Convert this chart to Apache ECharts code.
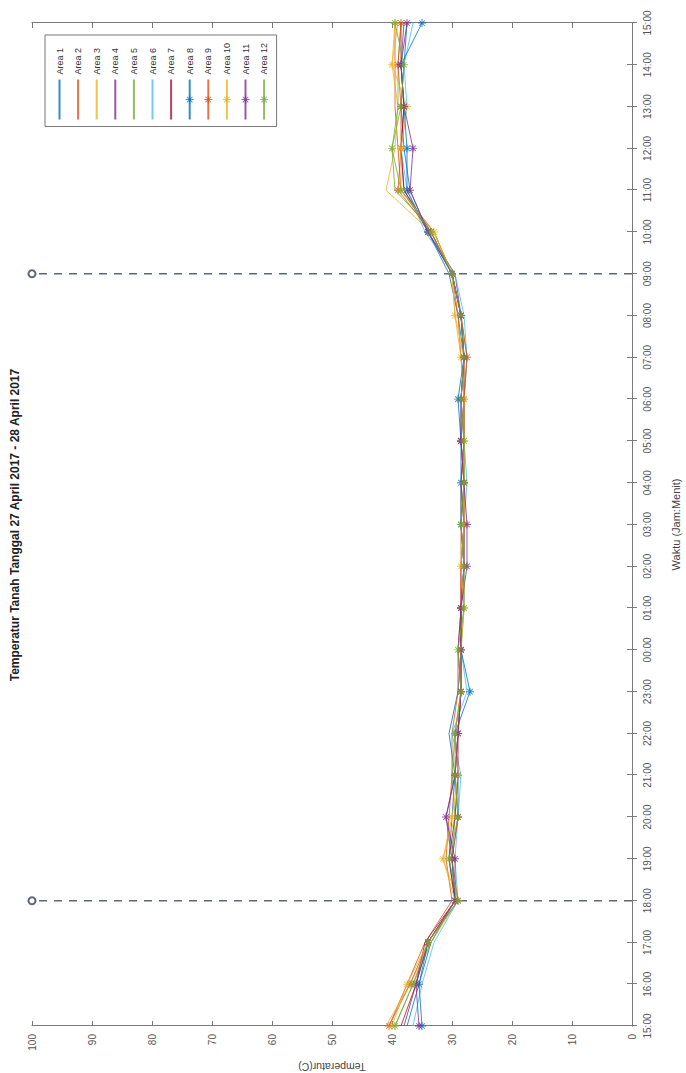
<!DOCTYPE html>
<html><head><meta charset="utf-8">
<script src="https://cdn.jsdelivr.net/npm/echarts@6/dist/echarts.min.js"></script>
<style>
html,body{margin:0;padding:0;width:686px;height:1073px;overflow:hidden;background:#fff}
#chart{position:absolute;left:0;top:1073px;width:1073px;height:686px;transform-origin:0 0;transform:rotate(-90deg)}
</style></head><body><div id="chart"></div>
<script>
const titleText = 'Temperatur Tanah Tanggal 27 April 2017 - 28 April 2017';
const times = ['15:00','16:00','17:00','18:00','19:00','20:00','21:00','22:00','23:00','00:00','01:00','02:00','03:00','04:00','05:00','06:00','07:00','08:00','09:00','10:00','11:00','12:00','13:00','14:00','15:00'];
const area1  = [37.5,35.5,33.5,29.5,30.5,30.0,29.5,30.5,29.0,28.5,28.5,28.0,28.5,28.0,28.5,28.5,28.0,29.0,30.5,34.0,37.0,38.0,38.5,38.0,37.5];
const area2  = [40.5,37.5,34.5,30.0,31.0,30.5,30.0,30.0,29.0,29.0,28.5,28.5,28.5,28.5,28.0,28.0,28.5,29.0,30.0,33.0,38.5,39.0,39.5,39.5,39.5];
const area3  = [41.0,37.0,33.5,29.0,31.5,29.5,29.0,29.5,28.5,28.5,28.0,28.0,28.0,28.0,28.5,28.0,28.0,29.5,30.0,33.5,41.0,39.5,39.0,40.0,39.0];
const area4  = [38.0,36.0,34.0,29.5,30.0,31.0,29.5,29.0,28.5,29.0,28.5,28.0,28.0,28.0,28.0,28.5,28.0,28.5,29.5,34.0,38.0,38.5,38.0,38.5,38.0];
const area5  = [39.5,36.5,33.5,29.5,30.0,29.5,30.0,29.5,28.5,28.5,28.5,28.0,28.5,28.0,28.0,28.0,27.5,28.5,30.0,33.0,39.5,40.0,39.0,39.0,38.5];
const area6  = [36.5,35.0,33.0,29.0,29.5,29.0,28.5,30.0,27.5,28.5,28.0,28.0,28.0,27.5,28.0,28.0,27.5,28.0,29.5,34.5,37.5,38.5,37.5,38.0,36.5];
const area7  = [38.5,36.0,34.5,29.5,30.5,29.5,29.0,29.0,28.5,28.5,28.5,28.5,28.0,28.5,28.0,28.0,28.0,28.5,30.0,33.5,38.0,38.5,38.0,38.5,38.5];
const area8  = [35.0,35.5,34.0,29.5,30.0,29.0,29.0,29.5,27.0,28.5,28.5,28.0,28.5,28.5,28.5,29.0,28.0,28.5,30.0,34.0,37.5,37.5,38.0,38.5,35.0];
const area9  = [40.5,37.0,34.0,29.0,30.0,29.0,29.5,29.0,28.5,28.5,28.5,28.0,28.0,28.0,28.5,28.0,27.5,28.5,30.0,33.5,39.0,38.5,38.5,39.0,38.5];
const area10 = [40.0,37.5,34.0,29.5,31.5,30.0,29.0,29.5,28.5,28.5,28.0,28.5,28.0,28.0,28.0,28.0,28.5,29.5,30.0,33.0,38.5,38.5,37.5,40.0,39.5];
const area11 = [35.5,36.0,34.0,29.5,29.5,31.0,29.5,29.0,28.5,28.5,28.5,27.5,27.5,28.0,28.5,28.5,28.0,28.5,30.0,34.0,37.0,36.5,38.0,38.5,37.5];
const area12 = [39.5,36.5,34.0,29.0,30.5,29.0,29.5,29.5,28.5,29.0,28.0,28.0,28.5,28.0,28.0,28.5,28.0,28.5,30.0,33.5,38.5,40.0,38.5,38.0,39.5];
const areaNames = ['Area 1','Area 2','Area 3','Area 4','Area 5','Area 6','Area 7','Area 8','Area 9','Area 10','Area 11','Area 12'];
const areaData = [area1,area2,area3,area4,area5,area6,area7,area8,area9,area10,area11,area12];
const withMarker = [false,false,false,false,false,false,false,true,true,true,true,true];
const dividerIndex = [3, 18];
const tempRange = [0, 100];

const palette = ['#0072BD','#D95319','#EDB120','#7E2F8E','#77AC30','#4DBEEE','#A2142F'];
const FONT = "'Liberation Sans', Arial, sans-serif";
const star = 'path://M-0.6,-5L0.6,-5L0.6,5L-0.6,5Z M-5,-0.6L5,-0.6L5,0.6L-5,0.6Z M-3.9,-3.1L-3.1,-3.9L3.9,3.1L3.1,3.9Z M3.1,-3.9L3.9,-3.1L-3.1,3.9L-3.9,3.1Z';

const chart = echarts.init(document.getElementById('chart'), null, {renderer: 'svg'});
const axisColor = '#7a7a7a';

const series = areaData.map((d, i) => {
  const c = palette[i % 7];
  return {
    name: areaNames[i], type: 'line', data: d,
    symbol: withMarker[i] ? star : 'none', symbolSize: 8, showSymbol: withMarker[i],
    lineStyle: {color: c, width: 1, opacity: 0.8},
    itemStyle: {color: c, opacity: 0.8},
    emphasis: {disabled: true}, animation: false
  };
});
dividerIndex.forEach((idx) => {
  series.push({
    type: 'line', data: [{value: [idx, tempRange[0]], symbol: 'none'}, {value: [idx, tempRange[1]], symbol: 'emptyCircle'}],
    symbolSize: 7, showSymbol: true,
    lineStyle: {color: '#5d6779', width: 1.5, type: [8, 7]},
    itemStyle: {color: '#5d6779', borderColor: '#5d6779', borderWidth: 1},
    emphasis: {disabled: true}, animation: false, z: 1
  });
});

chart.setOption({
  animation: false,
  grid: {left: 47, right: 23, top: 32, bottom: 54, outerBoundsMode: 'none', containLabel: false},
  graphic: [{type: 'text', x: 548, y: 9, style: {text: titleText, textAlign: 'center', textVerticalAlign: 'top', font: 'bold 12px ' + FONT, fill: '#222'}}],
  legend: {
    data: areaNames.map((n, i) => withMarker[i] ? n : {name: n, itemStyle: {opacity: 0}}),
    orient: 'vertical', right: 35, top: 45,
    itemWidth: 40, itemHeight: 10, itemGap: 9.6, padding: [10, 8, 8, 6],
    borderColor: '#777', borderWidth: 1, backgroundColor: '#fff',
    textStyle: {fontSize: 9, fontFamily: FONT, color: '#333'}
  },
  xAxis: [{
    type: 'category', data: times, boundaryGap: false,
    name: 'Waktu (Jam:Menit)', nameLocation: 'middle', nameGap: 38,
    nameTextStyle: {fontSize: 11, fontFamily: FONT, color: '#444'},
    axisLine: {lineStyle: {color: axisColor}},
    axisTick: {inside: true, length: 5, lineStyle: {color: axisColor}},
    axisLabel: {interval: 0, fontSize: 10, fontFamily: FONT, color: '#555', margin: 10},
    splitLine: {show: false}
  }, {
    type: 'category', data: times, boundaryGap: false, position: 'top',
    axisLine: {lineStyle: {color: axisColor}},
    axisTick: {inside: true, length: 5, lineStyle: {color: axisColor}},
    axisLabel: {show: false}, splitLine: {show: false}
  }],
  yAxis: [{
    type: 'value', min: tempRange[0], max: tempRange[1], interval: 10,
    name: 'Temperatur(C)', nameLocation: 'middle', nameGap: 32, nameRotate: 90,
    nameTextStyle: {fontSize: 10.5, fontFamily: FONT, color: '#444'},
    axisLine: {show: true, lineStyle: {color: axisColor}},
    axisTick: {show: true, inside: true, length: 5, lineStyle: {color: axisColor}},
    axisLabel: {fontSize: 10, fontFamily: FONT, color: '#555', margin: 8},
    splitLine: {show: false}
  }, {
    type: 'value', min: tempRange[0], max: tempRange[1], interval: 10, position: 'right',
    axisLine: {show: true, lineStyle: {color: axisColor}},
    axisTick: {show: true, inside: true, length: 5, lineStyle: {color: axisColor}},
    axisLabel: {show: false}, splitLine: {show: false}
  }],
  series: series
});
</script></body></html>
